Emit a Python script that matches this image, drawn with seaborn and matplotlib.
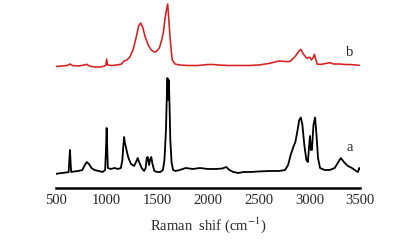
import numpy as np
import pandas as pd
import matplotlib
matplotlib.use("Agg")
import matplotlib.pyplot as plt
import seaborn as sns

# Spectrum a (black): Raman shift / relative intensity
shift_a = [500, 520, 560, 600, 625, 632, 638, 644, 650, 680, 720, 760, 785, 803, 825,
           850, 880, 920, 960, 985, 993, 1000, 1006, 1012, 1040, 1080, 1110, 1140,
           1155, 1165, 1172, 1180, 1190, 1200, 1215, 1240, 1270, 1290, 1306, 1320,
           1345, 1370, 1385, 1395, 1405, 1418, 1430, 1440, 1452, 1470, 1500, 1530,
           1555, 1570, 1585, 1595, 1600, 1606, 1612, 1618, 1628, 1640, 1655, 1680,
           1720, 1780, 1850, 1920, 2000, 2080, 2140, 2180, 2210, 2250, 2300, 2350,
           2420, 2500, 2600, 2700, 2760, 2790, 2815, 2845, 2862, 2880, 2900, 2915,
           2930, 2950, 2970, 2985, 2998, 3006, 3015, 3025, 3040, 3056, 3070, 3085,
           3105, 3150, 3200, 3250, 3280, 3310, 3340, 3380, 3420, 3460, 3480, 3490, 3500]
level_a = [174, 173.5, 173, 172.5, 172, 160, 150, 162, 172, 171.5, 171, 170, 165, 162, 164,
           168, 170, 171, 172, 170, 150, 128, 150, 168, 169, 168, 169, 168,
           160, 145, 137, 143, 147, 152, 158, 164, 166, 162, 158, 162,
           168, 171, 168, 158, 157, 165, 159, 157, 164, 171, 172, 172,
           170, 160, 130, 90, 78, 100, 80, 95, 140, 162, 170, 171,
           170, 168, 169, 168, 169, 169, 168.5, 167, 170, 172, 173, 172,
           172, 171.5, 171, 171, 170, 165, 155, 146, 142, 132, 120, 117.5,
           124, 145, 160, 162, 145, 136, 150, 150, 125, 117.5, 135, 158,
           168, 170, 170, 168, 163, 158, 162, 166, 168, 171, 172, 168, 169]

# Spectrum b (red)
shift_b = [500, 560, 610, 638, 660, 720, 780, 803, 830, 880, 940, 980, 992, 1000, 1008,
           1050, 1100, 1148, 1170, 1200, 1229, 1260, 1290, 1315, 1336, 1355, 1380,
           1410, 1440, 1470, 1490, 1520, 1543, 1560, 1576, 1590, 1602, 1612, 1625,
           1638, 1648, 1674, 1720, 1800, 1900, 2000, 2050, 2100, 2200, 2300, 2400,
           2500, 2600, 2700, 2760, 2809, 2858, 2890, 2915, 2940, 2974, 2990, 3006,
           3020, 3035, 3049, 3065, 3079, 3120, 3160, 3204, 3240, 3300, 3350, 3400,
           3450, 3493]
level_b = [66.5, 66, 65.5, 64, 65.5, 66, 65, 64.3, 66, 67, 67, 66, 65, 59, 65,
           65.5, 65, 64, 61, 60, 57, 50, 38, 26, 23, 27, 37,
           45, 50, 52, 51.5, 48, 40, 32, 18.3, 10, 4, 18, 36.7,
           52, 60, 64, 65, 65.5, 65.5, 64.5, 64.5, 65, 65.5, 65.5, 65.5,
           65, 63.5, 61, 61.5, 61.5, 56.7, 52, 49.3, 54, 58.3, 57.5, 57.3,
           60, 58, 54.3, 60, 64.3, 64.3, 63.5, 62.7, 64, 64, 64.5, 64.5,
           65, 65.3]

xticks = [500, 1000, 1500, 2000, 2500, 3000, 3500]

# values above were read as screen rows, flip them so that up = more intensity
df_a = pd.DataFrame({"shift": shift_a, "intensity": 188 - np.array(level_a)})
df_b = pd.DataFrame({"shift": shift_b, "intensity": 188 - np.array(level_b)})

sns.set_style("white")
plt.rcParams["font.family"] = ["Liberation Serif", "DejaVu Serif"]
plt.rcParams["mathtext.fontset"] = "stix"

fig = plt.figure(figsize=(3.97, 2.52), dpi=100)
ax = fig.add_axes([0.141, 0.254, 0.766, 0.746])

sns.lineplot(data=df_a, x="shift", y="intensity", color="black", lw=1.3, ax=ax)
sns.lineplot(data=df_b, x="shift", y="intensity", color="#d42020", lw=1.15, ax=ax)

ax.set_xlim(500, 3500)
ax.set_ylim(0, 188)
ax.set_xticks(xticks)
ax.set_yticks([])
ax.tick_params(axis="x", direction="in", length=5, width=1, labelsize=10.5, pad=4)
sns.despine(ax=ax, left=True)
ax.spines["bottom"].set_linewidth(1.8)
ax.spines["bottom"].set_color("black")

ax.set_xlabel("Raman  shif (cm$^{-1}$)", fontsize=10.5, labelpad=6)
ax.set_ylabel("")

ax.text(3395, 188 - 148, "a", fontsize=10.5, ha="center", va="center")
ax.text(3395, 188 - 53, "b", fontsize=10.5, ha="center", va="center")

fig.savefig("out.png", dpi=100)
